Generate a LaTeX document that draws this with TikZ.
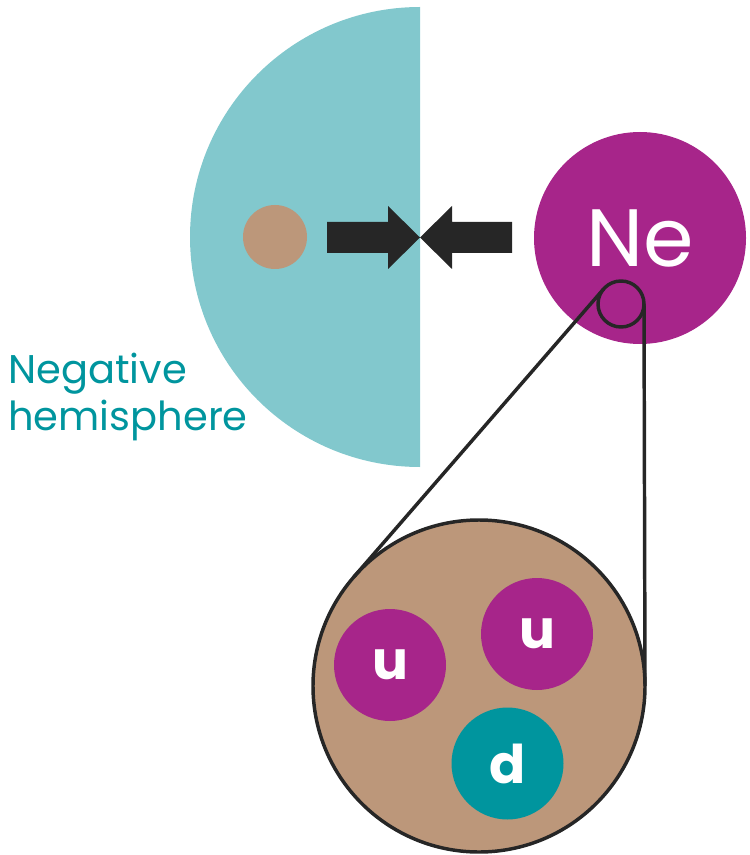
\documentclass[tikz,border=0pt]{standalone}
\usepackage{fontspec}
\setmainfont{Poppins}
\definecolor{hemiblue}{RGB}{130,200,205}
\definecolor{protontan}{RGB}{188,151,122}
\definecolor{quarkpink}{RGB}{167,37,138}
\definecolor{quarkteal}{RGB}{0,149,158}
\definecolor{arrowgrey}{RGB}{38,38,38}

\begin{document}
\begin{tikzpicture}[x=0.75pt, y=-0.75pt,
    quark/.style={circle, minimum size=84pt, inner sep=0pt, text=white, font=\fontsize{40}{40}\selectfont\bfseries},
    ring/.style={circle, draw=arrowgrey, line width=2.6pt, inner sep=0pt, outer sep=0pt}]
  \useasboundingbox (0,0) rectangle (749,855);
  % hemisphere and probe particle
  \fill[hemiblue] (420,7) arc (270:90:230) -- cycle;
  \node[circle, fill=protontan, minimum size=48pt, inner sep=0pt] (probe) at (275,237) {};
  \node[anchor=west, text=quarkteal, align=left, inner sep=0pt, font=\fontsize{30}{35}\selectfont] (hemilabel) at (8,397) {Negative\\hemisphere};
  % the two pushing arrows
  \fill[arrowgrey] (327,222) -- (388,222) -- (388,206) -- (420,237.5) -- (388,269) -- (388,253) -- (327,253) -- cycle;
  \fill[arrowgrey] (512,222) -- (452,222) -- (452,206) -- (420,237.5) -- (452,269) -- (452,253) -- (512,253) -- cycle;
  % neon atom with magnified proton
  \node[circle, fill=quarkpink, minimum size=159pt, inner sep=0pt, text=white, font=\fontsize{61}{61}\selectfont] (neon) at (640,238) {Ne};
  \node[ring, minimum size=34.5pt] (lens) at (621,304) {};
  \node[ring, fill=protontan, minimum size=249pt] (proton) at (479,686) {};
  \draw[arrowgrey, line width=2.6pt] (lens.139) -- (proton.139);
  \draw[arrowgrey, line width=2.6pt] (lens.0) -- (proton.0);
  \node[quark, fill=quarkpink] (u1) at (390,665) {u};
  \node[quark, fill=quarkpink] (u2) at (537,634) {u};
  \node[quark, fill=quarkteal] (d1) at (507.5,763.5) {d};
\end{tikzpicture}
\end{document}
